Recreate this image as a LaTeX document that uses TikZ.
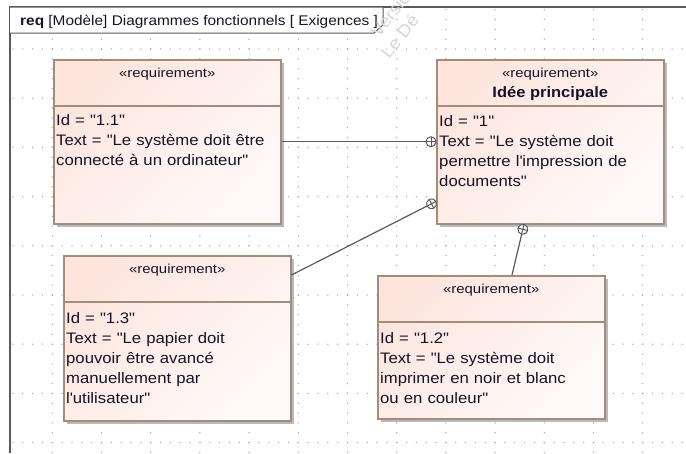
\documentclass[tikz,border=0pt]{standalone}
\usepackage{fontspec}
\setmainfont{Liberation Sans}
\newfontfamily\bodyfont[FakeStretch=1.1]{Liberation Sans}
\newfontfamily\stereofont[FakeStretch=1.15]{Liberation Sans}
\usetikzlibrary{calc,shadows,decorations.markings}

\definecolor{reqpink}{HTML}{FDE5DE}
\definecolor{reqlight}{HTML}{FFFAF9}
\definecolor{reqborder}{HTML}{A48C7A}
\definecolor{framegray}{HTML}{5A5A5A}
\definecolor{griddot}{HTML}{A8A8A8}
\definecolor{linkgray}{HTML}{5A5A5A}
\definecolor{inktext}{HTML}{141428}

\begin{document}
\begin{tikzpicture}[x=1pt,y=-1pt,
  reqbox/.style={draw=reqborder, line width=1.5pt, top color=reqpink,
    bottom color=reqlight, shading angle=45, minimum width=227pt,
    inner sep=0pt, anchor=north west,
    drop shadow={shadow xshift=3pt, shadow yshift=-3pt, fill=black!27, opacity=1}},
  sepline/.style={draw=reqborder, line width=1.5pt},
  stereo/.style={anchor=base, inner sep=0pt, text=inktext,
    font=\stereofont\fontsize{13}{15}\selectfont},
  reqtitle/.style={anchor=base, inner sep=0pt, text=inktext,
    font=\bodyfont\bfseries\fontsize{15}{20}\selectfont},
  bodytext/.style={anchor=base west, inner sep=0pt, text=inktext,
    text width=224pt, align=left,
    font=\bodyfont\fontsize{15.2}{20}\selectfont},
  link/.style={draw=linkgray, line width=1.2pt},
  contain/.style={postaction={decorate}, decoration={markings,
    mark=at position 1 with {
      \draw[draw=linkgray, fill=white, line width=1pt] (-5pt,0pt) circle (5pt);
      \draw[draw=linkgray, line width=1pt] (-10pt,0pt) -- (0pt,0pt)
        (-5pt,-5pt) -- (-5pt,5pt);}}},
  hdr/.style={anchor=base west, inner sep=0pt, text=inktext,
    font=\bodyfont\fontsize{14}{16}\selectfont},
  watermark/.style={anchor=base west, inner sep=0pt, rotate=52, text=black!16,
    font=\bodyfont\fontsize{17}{17}\selectfont}
]
\useasboundingbox (0,0) rectangle (686,453);
\clip (0,0) rectangle (686,453);
\fill[white] (0,0) rectangle (686,453);

% dotted drawing grid: rows and columns every 49.2pt, dots every 9.84pt
\foreach \r in {0,...,8} {
  \foreach \d in {-4,...,64} {
    \fill[griddot] ({52.3+\d*9.84}, {49+\r*49.2}) circle (0.75pt);
  }
}
\foreach \c in {0,...,12} {
  \foreach \d in {-4,...,41} {
    \fill[griddot] ({52.3+\c*49.2}, {49+\d*9.84}) circle (0.75pt);
  }
}

% diagram frame and name tab
\draw[framegray, line width=1.5pt] (10,453) -- (10,7) -- (686,7);
\draw[fill=white, draw=framegray, line width=1pt]
  (10,7) -- (383,7) -- (383,25) -- (374,33) -- (10,33);
\node[hdr] (title) at (20,25) {\textbf{req} [Modèle] Diagrammes fonctionnels [ Exigences ]};

% faint edition watermark
\node[watermark] (wm1) at (379,39) {Version};
\node[watermark] (wm2) at (389,60) {Le Dé};

% requirement blocks
\node[reqbox, minimum height=164pt] (r11) at (53,59) {};
\node[reqbox, minimum height=164pt] (r1)  at (436,59) {};
\node[reqbox, minimum height=165pt] (r13) at (63,255) {};
\node[reqbox, minimum height=143pt] (r12) at (377,275) {};

\foreach \b in {r11,r1,r13,r12} {
  \draw[sepline] ($(\b.north west)+(0,47)$) -- ($(\b.north east)+(0,47)$);
}

\node[stereo] (r11s) at ($(r11.north)+(0,18)$) {«requirement»};
\node[stereo] (r1s)  at ($(r1.north)+(0,18)$) {«requirement»};
\node[reqtitle] (r1t) at ($(r1.north)+(0,38)$) {Idée principale};
\node[stereo] (r13s) at ($(r13.north)+(0,18)$) {«requirement»};
\node[stereo] (r12s) at ($(r12.north)+(0,18)$) {«requirement»};

\node[bodytext] (r11b) at ($(r11.north west)+(3,66)$)
  {Id = "1.1"\\Text = "Le système doit être\\connecté à un ordinateur"};
\node[bodytext] (r1b) at ($(r1.north west)+(3,67)$)
  {Id = "1"\\Text = "Le système doit\\permettre l\textquotesingle impression de\\documents"};
\node[bodytext] (r13b) at ($(r13.north west)+(3,68)$)
  {Id = "1.3"\\Text = "Le papier doit\\pouvoir être avancé\\manuellement par\\l\textquotesingle utilisateur"};
\node[bodytext] (r12b) at ($(r12.north west)+(3,68)$)
  {Id = "1.2"\\Text = "Le système doit\\imprimer en noir et blanc\\ou en couleur"};

% containment links to the main requirement
\draw[link, contain] (r11.east) -- (r1.west);
\draw[link, contain] ($(r13.north east)+(0,20)$) -- ($(r1.south west)+(0,-23)$);
\draw[link, contain] ($(r12.north west)+(135,0)$) -- ($(r1.south west)+(88,0)$);
\end{tikzpicture}
\end{document}
